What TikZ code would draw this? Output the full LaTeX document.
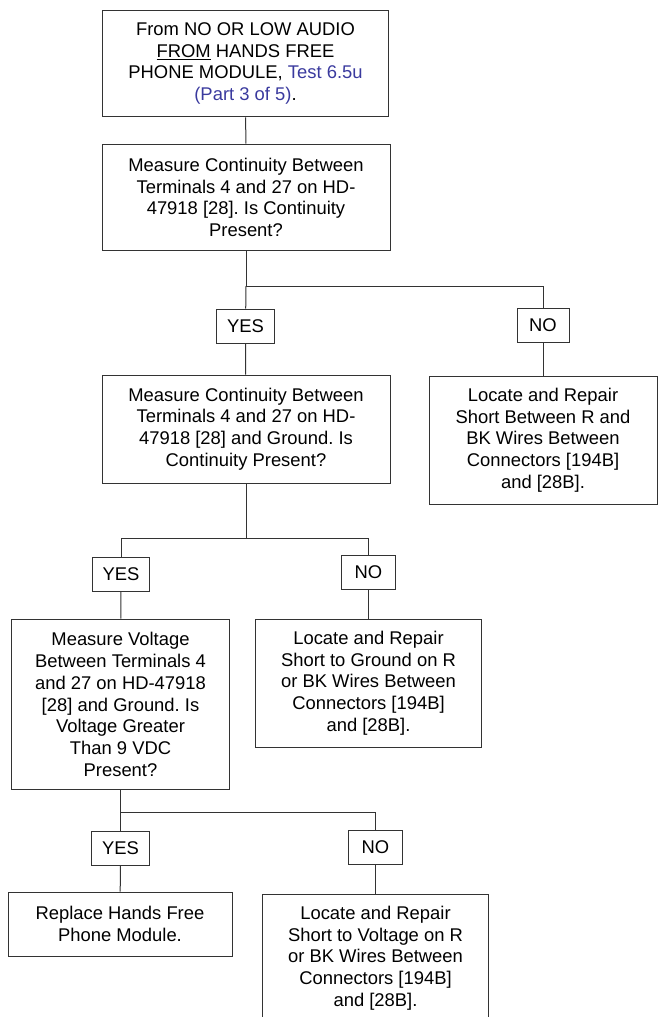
\documentclass[tikz,border=0pt]{standalone}
\usepackage{fontspec}
\setmainfont{Liberation Sans}
\definecolor{linkblue}{RGB}{58,58,158}
\frenchspacing

\begin{document}
\begin{tikzpicture}[x=0.75pt, y=-0.75pt,
    box/.style={draw=black!80, line width=0.75pt, rectangle, align=center, inner sep=0pt,
      font=\fontsize{13.8}{16.3}\selectfont},
    ans/.style={draw=black!80, line width=0.75pt, rectangle, inner sep=0pt,
      minimum width=43pt, minimum height=25.5pt, font=\fontsize{13.8}{15}\selectfont},
    edge/.style={draw=black!80, line width=0.75pt}]

  \useasboundingbox (0,0) rectangle (660,1017);
  \clip (0,0) rectangle (660,1017);

  % start and first test
  \node[box, minimum width=215pt, minimum height=80pt] (start) at (245.5,63.5)
    {From NO OR LOW AUDIO\\ \underline{FROM} HANDS FREE\\
     PHONE MODULE, \textcolor{linkblue}{Test 6.5u}\\ \textcolor{linkblue}{(Part 3 of 5)}.};
  \node[box, minimum width=216pt, minimum height=80pt] (cont) at (246,197.5)
    {Measure Continuity Between\\ Terminals 4 and 27 on HD-\\ 47918 [28]. Is Continuity\\ Present?};

  % first answers
  \node[ans] (yes1) at (245.5,326) {YES};
  \node[ans, minimum width=39pt] (no1) at (543,325.5) {NO};
  \node[box, minimum width=216pt, minimum height=81pt] (gnd) at (246,429)
    {Measure Continuity Between\\ Terminals 4 and 27 on HD-\\ 47918 [28] and Ground. Is\\ Continuity Present?};
  \node[box, minimum width=171pt, minimum height=96pt] (rep1) at (543,440)
    {Locate and Repair\\ Short Between R and\\ BK Wires Between\\ Connectors [194B]\\ and [28B].};

  % second answers
  \node[ans] (yes2) at (121,574) {YES};
  \node[ans, minimum width=41pt] (no2) at (368.5,572.5) {NO};
  \node[box, minimum width=163pt, minimum height=128pt] (volt) at (120.5,704.5)
    {Measure Voltage\\ Between Terminals 4\\ and 27 on HD-47918\\ {[28]} and Ground. Is\\ Voltage Greater\\ Than 9 VDC\\ Present?};
  \node[box, minimum width=170pt, minimum height=96pt] (rep2) at (368.5,683)
    {Locate and Repair\\ Short to Ground on R\\ or BK Wires Between\\ Connectors [194B]\\ and [28B].};

  % third answers
  \node[ans] (yes3) at (120.5,848) {YES};
  \node[ans, minimum width=41pt] (no3) at (375.5,847) {NO};
  \node[box, minimum width=168pt, minimum height=48pt] (repl) at (120,924)
    {Replace Hands Free\\ Phone Module.};
  \node[box, minimum width=169pt, minimum height=96pt] (rep3) at (375.5,958)
    {Locate and Repair\\ Short to Voltage on R\\ or BK Wires Between\\ Connectors [194B]\\ and [28B].};

  % split points
  \coordinate (s1) at (246,286);
  \coordinate (s2) at (246,538);
  \coordinate (s3) at (120.5,812);

  \draw[edge] (start) -- (cont);
  \draw[edge] (cont) -- (s1) -| (no1);
  \draw[edge] (s1) -- (yes1);
  \draw[edge] (yes1) -- (gnd);
  \draw[edge] (no1) -- (rep1);

  \draw[edge] (gnd) -- (s2);
  \draw[edge] (s2) -| (yes2);
  \draw[edge] (s2) -| (no2);
  \draw[edge] (yes2) -- (volt);
  \draw[edge] (no2) -- (rep2);

  \draw[edge] (volt) -- (s3) -| (no3);
  \draw[edge] (s3) -- (yes3);
  \draw[edge] (yes3) -- (repl);
  \draw[edge] (no3) -- (rep3);

\end{tikzpicture}
\end{document}
